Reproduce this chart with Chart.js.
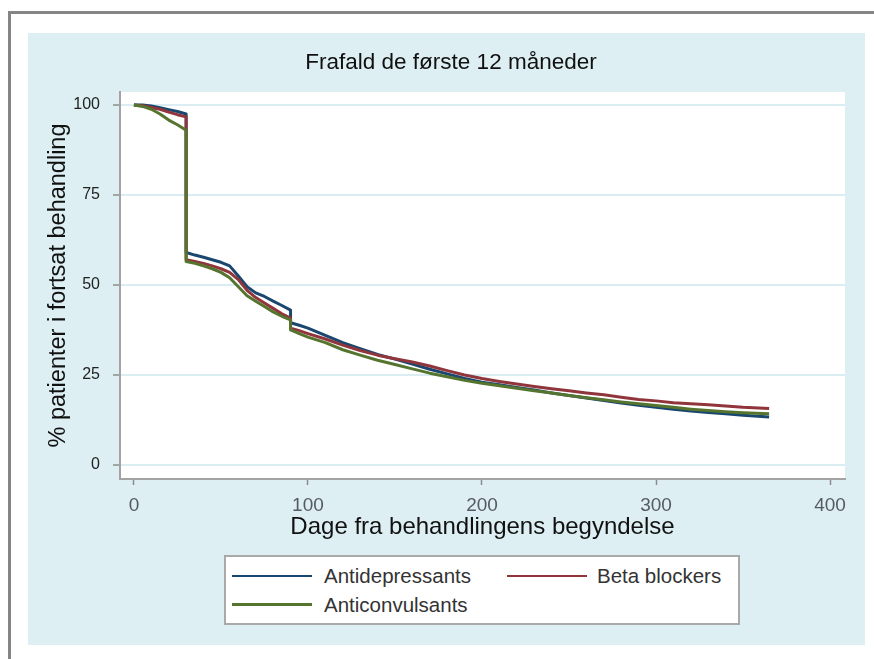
<!DOCTYPE html>
<html>
<head>
<meta charset="utf-8">
<script src="https://cdn.jsdelivr.net/npm/chart.js@4/dist/chart.umd.min.js"></script>
<style>
html,body{margin:0;padding:0;background:#fff;width:874px;height:659px;overflow:hidden;font-family:"Liberation Sans",Arial,sans-serif;}
#frameTop{position:absolute;left:8px;top:11px;width:866px;height:3px;background:#858585;}
#frameLeft{position:absolute;left:8px;top:11px;width:3px;height:648px;background:#858585;}
#panel{position:absolute;left:28px;top:33px;width:837px;height:612px;background:#ddeff3;}
#wrap{position:absolute;left:28px;top:33px;width:846px;height:612px;}
#legend{position:absolute;left:224px;top:555px;width:516px;height:70px;background:#fff;border:2px solid #a9a9a9;box-sizing:border-box;}
.li{position:absolute;height:0;}
.lt{position:absolute;font-size:20.5px;color:#333;line-height:24px;white-space:nowrap;}
</style>
</head>
<body>
<div id="frameTop"></div>
<div id="frameLeft"></div>
<div id="panel"></div>
<div id="wrap"><canvas id="c" width="846" height="612"></canvas></div>
<div id="legend"></div>
<script>
// ---- data ----
const days = [0,5,10,15,20,25,30,30,35,40,45,50,55,60,65,70,75,80,85,90,90,95,100,110,120,130,140,150,160,170,180,190,200,210,220,230,240,250,260,270,280,290,300,310,320,330,340,350,365];
const antidepressants = [100,100,99.7,99.2,98.7,98.2,97.5,59.0,58.3,57.7,57.0,56.3,55.3,52.5,49.5,47.8,46.8,45.5,44.3,43.0,39.5,38.8,38.0,36.0,34.0,32.3,30.7,29.4,28.0,26.6,25.3,24.0,23.0,22.3,21.5,20.8,20.0,19.3,18.6,17.9,17.2,16.6,16.0,15.5,15.0,14.6,14.2,13.8,13.3];
const betaBlockers = [100,99.8,99.3,98.8,98.0,97.3,96.7,57.0,56.5,56.0,55.3,54.5,53.5,51.5,48.5,46.5,45.0,43.5,42.0,40.8,38.0,37.3,36.5,35.0,33.3,31.8,30.5,29.5,28.6,27.5,26.2,25.0,24.0,23.2,22.5,21.8,21.2,20.6,20.0,19.5,18.8,18.2,17.8,17.3,17.0,16.7,16.4,16.0,15.7];
const anticonvulsants = [100,99.6,98.8,97.5,95.8,94.5,93.0,56.5,56.0,55.3,54.5,53.5,52.0,49.5,47.0,45.5,44.0,42.5,41.3,40.3,37.5,36.5,35.5,34.0,32.0,30.5,29.1,27.9,26.7,25.5,24.5,23.5,22.7,22.0,21.3,20.6,20.0,19.3,18.7,18.1,17.5,17.0,16.5,16.0,15.5,15.1,14.8,14.5,14.2];
const seriesLabels = ['Antidepressants','Beta blockers','Anticonvulsants'];
const xTicks = [0,100,200,300,400];
const yTicks = [0,25,50,75,100];
const titleText = 'Frafald de første 12 måneder';
const xTitle = 'Dage fra behandlingens begyndelse';
const yTitle = '% patienter i fortsat behandling';

// ---- styles ----
const FONT = '"Liberation Sans", Arial, sans-serif';
const colors = ['#1a476f','#90353b','#55752f'];
const legendWidths = [2,2,3.5];
const series = [antidepressants, betaBlockers, anticonvulsants];

const toXY = vals => vals.map((v,i)=>({x:days[i], y:v}));

const whitePlot = {
  id:'whitePlot',
  beforeDraw(chart){
    const {ctx, chartArea:a} = chart;
    ctx.save(); ctx.fillStyle='#ffffff';
    ctx.fillRect(a.left, a.top, a.right-a.left, a.bottom-a.top);
    ctx.restore();
  }
};

new Chart(document.getElementById('c'), {
  type:'line',
  data:{
    datasets: series.map((s,i)=>({
      label: seriesLabels[i],
      data: toXY(s),
      borderColor: colors[i],
      backgroundColor: colors[i],
      borderWidth: 3,
      pointRadius: 0,
      tension: 0,
      fill: false,
      borderJoinStyle:'round',
      order: 2-i,
      yAxisID:'y'
    }))
  },
  options:{
    responsive:false, animation:false,
    layout:{padding:{left:0,right:0,top:0,bottom:100}},
    plugins:{
      legend:{display:false},
      tooltip:{enabled:false},
      title:{display:true,text:titleText,color:'#111',font:{family:FONT,size:22.5,weight:'normal'},padding:{top:16.5,bottom:15.5}}
    },
    scales:{
      x:{
        type:'linear', min:-8, max:408.6,
        afterBuildTicks:s=>{s.ticks = xTicks.map(v=>({value:v}));},
        afterFit:s=>{s.height = 66;},
        grid:{drawOnChartArea:false,drawTicks:true,tickLength:6,tickColor:'#8c8c8c',tickWidth:1.5},
        border:{display:true,color:'#a3a3a3',width:2},
        ticks:{padding:9,color:'#555b62',font:{family:FONT,size:19},maxRotation:0,autoSkip:false},
        title:{display:true,text:xTitle,color:'#111',font:{family:FONT,size:24},padding:{top:0,bottom:3.6}}
      },
      y:{
        type:'linear', min:-3.9, max:103.6,
        afterBuildTicks:s=>{s.ticks = yTicks.map(v=>({value:v}));},
        afterFit:s=>{s.width = 92;},
        grid:{color:'#d9edf2',lineWidth:2,drawTicks:true,tickLength:7,tickColor:'#8c8c8c',tickWidth:1.5},
        border:{display:true,color:'#a3a3a3',width:2},
        ticks:{padding:13,color:'#222',font:{family:FONT,size:16},autoSkip:false},
        title:{display:true,text:yTitle,color:'#111',font:{family:FONT,size:23.5},padding:{top:16,bottom:0}}
      },
      yRight:{
        type:'linear', position:'right', display:true,
        grid:{display:false}, ticks:{display:false}, border:{display:false},
        afterFit:s=>{s.width = 29;}
      }
    }
  },
  plugins:[whitePlot]
});

// ---- HTML legend built from series ----
const lg = document.getElementById('legend');
const colLine = [6, 281], colText = [98, 371], rowY = [19, 48];
seriesLabels.forEach((lab,i)=>{
  const c = i%2, r = Math.floor(i/2);
  const ln = document.createElement('div');
  ln.className='li';
  ln.style.left = colLine[c]+'px';
  ln.style.width = '80px';
  ln.style.top = (rowY[r]-legendWidths[i]/2)+'px';
  ln.style.borderTop = legendWidths[i]+'px solid '+colors[i];
  lg.appendChild(ln);
  const t = document.createElement('div');
  t.className='lt';
  t.textContent = lab;
  t.style.left = colText[c]+'px';
  t.style.top = (rowY[r]-12)+'px';
  lg.appendChild(t);
});
</script>
</body>
</html>
